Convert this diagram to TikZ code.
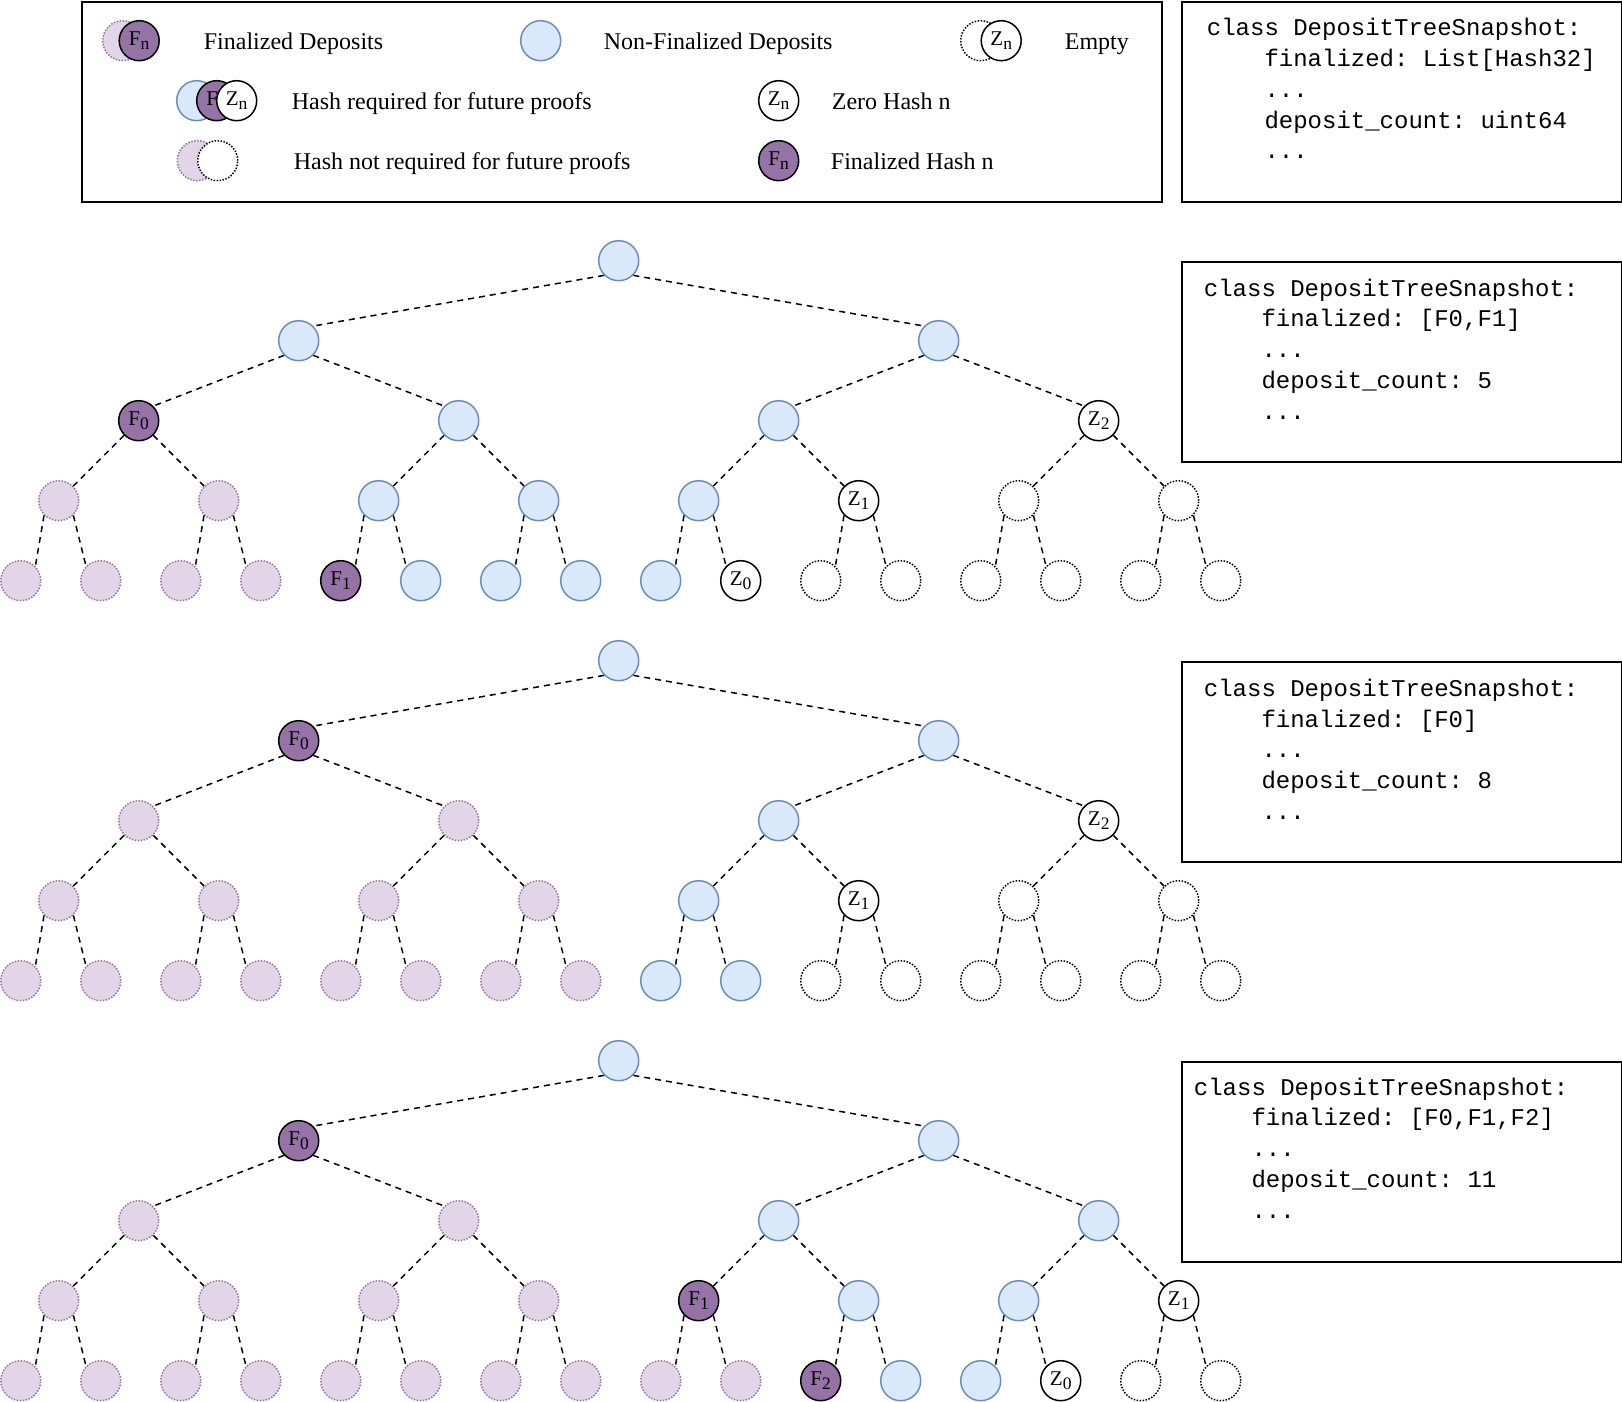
\documentclass[tikz,border=0pt]{standalone}
\usepackage{fontspec}
\setmainfont{Liberation Serif}
\newfontfamily\codefont{Liberation Mono}
\usetikzlibrary{positioning}
\definecolor{lblue}{HTML}{DAE8FC}
\definecolor{nblue}{HTML}{6C8EBF}
\definecolor{purp}{HTML}{9673A6}
\definecolor{lpurp}{HTML}{E1D5E7}
\newcommand\hs[2]{#1\raisebox{-4.3pt}{\fontsize{17.5}{17.5}\selectfont #2}}
\newcommand\indt{\hphantom{xxxx}}
\begin{document}
\begin{tikzpicture}[x=1pt, y=-1pt,
  vtx/.style={circle, minimum size=40pt, inner sep=0pt, line width=1.5pt, font=\fontsize{21}{21}\selectfont},
  nfin/.style={vtx, draw=nblue, fill=lblue},
  fin/.style={vtx, draw=black, fill=purp},
  ghost/.style={vtx, draw=purp, fill=lpurp, dash pattern=on 1.5pt off 1.5pt},
  zer/.style={vtx, draw=black, fill=white},
  emp/.style={vtx, draw=black, fill=white, dash pattern=on 1.5pt off 1.5pt},
  link/.style={line width=1.5pt, dash pattern=on 6pt off 5pt},
  panel/.style={draw, line width=2pt, anchor=north west, minimum width=#1, minimum height=200pt, inner sep=0pt},
  lbl/.style={anchor=base west, inner sep=0pt, font=\fontsize{24}{24}\selectfont},
  snap/.style={anchor=base west, inner sep=0pt, align=left, font=\codefont\fontsize{24}{30.8}\selectfont\frenchspacing}]
\useasboundingbox (-0.7,-0.7) rectangle (1621.3,1401.3);

% legend
\node[panel=1080pt] (lgd) at (80,0) {};
\node[ghost] (lf0) at (122,40) {};
\node[fin] (lf1) at (138.5,40) {\hs{F}{n}};
\node[lbl] (tf) at (203,48.5) {Finalized Deposits};
\node[nfin] (ln) at (540,40) {};
\node[lbl] (tn) at (603,48.5) {Non-Finalized Deposits};
\node[emp] (le0) at (980,40) {};
\node[zer] (le1) at (1000.5,40) {\hs{Z}{n}};
\node[lbl] (te) at (1064,48.5) {Empty};
\node[nfin] (lr0) at (196,100) {};
\node[fin] (lr1) at (216,100) {\hs{F}{n}};
\node[zer] (lr2) at (236,100) {\hs{Z}{n}};
\node[lbl] (tr) at (291,108.5) {Hash required for future proofs};
\node[zer] (lz) at (778,100) {\hs{Z}{n}};
\node[lbl] (tz) at (831,108.5) {Zero Hash n};
\node[ghost] (lu0) at (196.6,160) {};
\node[emp] (lu1) at (217,160) {};
\node[lbl] (tu) at (293,168.5) {Hash not required for future proofs};
\node[fin] (lh) at (778,160) {\hs{F}{n}};
\node[lbl] (th) at (830,168.5) {Finalized Hash n};

% snapshots (base is the last line)
\node[panel=440pt] (s0) at (1180,0) {};
\node[panel=440pt] (s1) at (1180,260) {};
\node[panel=440pt] (s2) at (1180,660) {};
\node[panel=440pt] (s3) at (1180,1060) {};
\node[snap] (c0) at (1206,158.2) {class DepositTreeSnapshot:\\\indt finalized: List[Hash32]\\\indt ...\\\indt deposit\_count: uint64\\\indt ...};
\node[snap] (c1) at (1203,418.5) {class DepositTreeSnapshot:\\\indt finalized: [F0,F1]\\\indt ...\\\indt deposit\_count: 5\\\indt ...};
\node[snap] (c2) at (1203,818.7) {class DepositTreeSnapshot:\\\indt finalized: [F0]\\\indt ...\\\indt deposit\_count: 8\\\indt ...};
\node[snap] (c3) at (1193,1217.5) {class DepositTreeSnapshot:\\\indt finalized: [F0,F1,F2]\\\indt ...\\\indt deposit\_count: 11\\\indt ...};

% trees, nodes in heap order
\foreach \s/\ltr/\idx [count=\i] in {nfin//,nfin//,nfin//,fin/F/0,nfin//,nfin//,zer/Z/2,
  ghost//,ghost//,nfin//,nfin//,nfin//,zer/Z/1,emp//,emp//,
  ghost//,ghost//,ghost//,ghost//,fin/F/1,nfin//,nfin//,nfin//,nfin//,zer/Z/0,emp//,emp//,emp//,emp//,emp//,emp//}
{\pgfmathtruncatemacro\lv{(\i>1)+(\i>3)+(\i>7)+(\i>15)}
 \pgfmathsetmacro\px{(\i-2^\lv+0.5)*(1280/2^\lv)-20-2*(\i<16)}
 \node[\s] (a\i) at (\px,260+80*\lv) {\hs{\ltr}{\idx}};}
\foreach \s/\ltr/\idx [count=\i] in {nfin//,fin/F/0,nfin//,ghost//,ghost//,nfin//,zer/Z/2,
  ghost//,ghost//,ghost//,ghost//,nfin//,zer/Z/1,emp//,emp//,
  ghost//,ghost//,ghost//,ghost//,ghost//,ghost//,ghost//,ghost//,nfin//,nfin//,emp//,emp//,emp//,emp//,emp//,emp//}
{\pgfmathtruncatemacro\lv{(\i>1)+(\i>3)+(\i>7)+(\i>15)}
 \pgfmathsetmacro\px{(\i-2^\lv+0.5)*(1280/2^\lv)-20-2*(\i<16)}
 \node[\s] (b\i) at (\px,660+80*\lv) {\hs{\ltr}{\idx}};}
\foreach \s/\ltr/\idx [count=\i] in {nfin//,fin/F/0,nfin//,ghost//,ghost//,nfin//,nfin//,
  ghost//,ghost//,ghost//,ghost//,fin/F/1,nfin//,nfin//,zer/Z/1,
  ghost//,ghost//,ghost//,ghost//,ghost//,ghost//,ghost//,ghost//,ghost//,ghost//,fin/F/2,nfin//,nfin//,zer/Z/0,emp//,emp//}
{\pgfmathtruncatemacro\lv{(\i>1)+(\i>3)+(\i>7)+(\i>15)}
 \pgfmathsetmacro\px{(\i-2^\lv+0.5)*(1280/2^\lv)-20-2*(\i<16)}
 \node[\s] (c\i) at (\px,1060+80*\lv) {\hs{\ltr}{\idx}};}

\foreach \t in {a,b,c}
  \foreach \i in {2,...,31}{
    \pgfmathtruncatemacro\pa{\i/2}
    \ifodd\i \draw[link] (\t\pa.south east) -- (\t\i.north west);
    \else \draw[link] (\t\pa.south west) -- (\t\i.north east); \fi}
\end{tikzpicture}
\end{document}
